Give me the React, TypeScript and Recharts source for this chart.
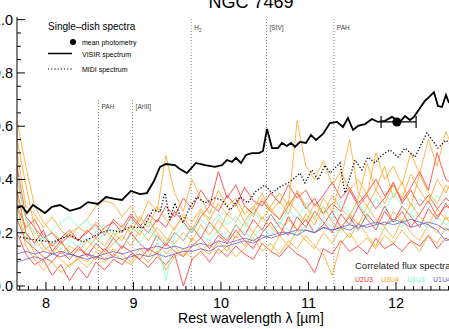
import React from 'react';
import { ComposedChart, Line, Scatter, ErrorBar, XAxis, YAxis, ReferenceLine } from 'recharts';

const FONT = '"Liberation Sans", Arial, Helvetica, sans-serif';

// VISIR spectrum (single-dish)
const visirWl = [7.669,7.726,7.783,7.851,7.92,7.989,8.069,8.16,8.274,8.389,8.48,8.594,8.686,8.789,8.869,8.971,9.074,9.154,9.234,9.303,9.371,9.474,9.531,9.611,9.714,9.817,9.931,10.011,10.069,10.126,10.171,10.229,10.286,10.354,10.434,10.48,10.526,10.583,10.651,10.697,10.754,10.8,10.846,10.903,10.971,11.029,11.086,11.166,11.246,11.326,11.394,11.451,11.509,11.566,11.646,11.726,11.794,11.874,11.954,12.046,12.103,12.16,12.206,12.274,12.331,12.389,12.434,12.48,12.526,12.571,12.606];
const visirFlux = [0.293,0.3,0.274,0.304,0.289,0.274,0.297,0.304,0.282,0.293,0.315,0.308,0.334,0.327,0.323,0.357,0.345,0.349,0.394,0.447,0.458,0.454,0.439,0.424,0.462,0.454,0.447,0.454,0.473,0.466,0.481,0.462,0.492,0.499,0.499,0.507,0.59,0.518,0.518,0.537,0.526,0.537,0.522,0.541,0.537,0.567,0.548,0.571,0.612,0.616,0.597,0.631,0.586,0.601,0.608,0.627,0.616,0.62,0.635,0.616,0.638,0.623,0.635,0.668,0.695,0.713,0.728,0.676,0.672,0.717,0.687];

// MIDI spectrum
const midiWl = [7.703,7.874,8.08,8.274,8.423,8.617,8.731,8.846,8.96,9.109,9.223,9.303,9.36,9.417,9.474,9.566,9.646,9.726,9.817,9.931,10.011,10.103,10.217,10.309,10.389,10.503,10.583,10.674,10.789,10.903,10.96,11.04,11.109,11.189,11.246,11.36,11.417,11.474,11.531,11.611,11.68,11.76,11.84,11.931,12.023,12.103,12.217,12.354,12.48,12.571,12.606];
const midiFlux = [0.184,0.173,0.165,0.192,0.165,0.199,0.21,0.203,0.222,0.218,0.285,0.278,0.349,0.248,0.312,0.237,0.297,0.334,0.312,0.33,0.323,0.285,0.334,0.312,0.353,0.379,0.349,0.372,0.391,0.424,0.387,0.436,0.398,0.454,0.424,0.462,0.349,0.409,0.473,0.436,0.484,0.462,0.492,0.511,0.484,0.518,0.484,0.575,0.518,0.548,0.537];

// Mean photometry
const photWl = 12.01;
const photFlux = 0.616;
const photErr = [0.18, 0.22];

// Correlated flux spectra wavelength grid
const corrWl = [7.67,7.77,7.87,7.97,8.07,8.17,8.27,8.37,8.47,8.57,8.67,8.77,8.87,8.97,9.07,9.17,9.27,9.37,9.47,9.57,9.67,9.77,9.87,9.97,10.07,10.17,10.27,10.37,10.47,10.57,10.67,10.77,10.87,10.97,11.07,11.17,11.27,11.37,11.47,11.57,11.67,11.77,11.87,11.97,12.07,12.17,12.27,12.37,12.47,12.57,12.67];

const u2u3 = [
  [0.45,0.26,0.22,0.18,0.2,0.16,0.19,0.17,0.21,0.18,0.22,0.24,0.2,0.26,0.22,0.27,0.24,0.3,0.26,0.33,0.29,0.36,0.31,0.28,0.34,0.3,0.37,0.32,0.3,0.35,0.31,0.38,0.33,0.36,0.3,0.34,0.39,0.33,0.37,0.31,0.35,0.4,0.34,0.38,0.32,0.37,0.43,0.36,0.5,0.4,0.38],
  [0.2,0.12,0.08,0.1,0.04,0.08,0.02,0.07,0.03,0.09,0.06,0.1,0.08,0.12,0.1,0.07,0.11,0.08,0.12,0.0,0.1,0.13,0.09,0.14,0.11,0.15,0.12,0.1,0.16,0.13,0.11,0.15,0.12,0.1,0.05,0.14,0.12,0.17,0.13,0.15,0.12,0.18,0.14,0.16,0.13,0.17,0.15,0.19,0.14,0.18,0.16],
  [0.3,0.22,0.25,0.19,0.15,0.18,0.21,0.17,0.2,0.23,0.19,0.25,0.22,0.27,0.23,0.2,0.25,0.22,0.28,0.24,0.2,0.26,0.3,0.43,0.33,0.38,0.3,0.27,0.32,0.28,0.25,0.3,0.35,0.29,0.33,0.27,0.31,0.28,0.36,0.3,0.34,0.29,0.33,0.39,0.31,0.36,0.3,0.34,0.29,0.33,0.3],
  [0.36,0.2,0.16,0.21,0.13,0.17,0.12,0.15,0.11,0.16,0.13,0.18,0.14,0.2,0.16,0.13,0.19,0.15,0.2,0.17,0.22,0.18,0.24,0.2,0.17,0.23,0.19,0.25,0.21,0.27,0.22,0.19,0.26,0.22,0.28,0.24,0.2,0.27,0.23,0.3,0.25,0.21,0.28,0.24,0.3,0.26,0.22,0.29,0.25,0.31,0.27],
  [0.25,0.17,0.14,0.11,0.09,0.13,0.1,0.14,0.12,0.1,0.14,0.11,0.15,0.13,0.1,0.14,0.12,0.16,0.13,0.11,0.15,0.18,0.14,0.19,0.16,0.21,0.17,0.14,0.2,0.24,0.19,0.26,0.21,0.25,0.2,0.23,0.28,0.22,0.26,0.21,0.27,0.23,0.3,0.24,0.28,0.22,0.27,0.32,0.26,0.3,0.28],
];
const u3u4 = [
  [0.62,0.45,0.3,0.24,0.2,0.17,0.2,0.22,0.25,0.3,0.32,0.31,0.26,0.3,0.24,0.32,0.28,0.49,0.35,0.28,0.4,0.33,0.27,0.36,0.3,0.33,0.27,0.3,0.25,0.3,0.35,0.3,0.62,0.45,0.4,0.47,0.38,0.43,0.36,0.4,0.34,0.5,0.4,0.45,0.38,0.5,0.42,0.55,0.45,0.58,0.5],
  [0.55,0.38,0.22,0.15,0.12,0.16,0.13,0.1,0.14,0.18,0.15,0.2,0.17,0.23,0.19,0.25,0.2,0.16,0.22,0.26,0.21,0.28,0.24,0.2,0.27,0.31,0.24,0.29,0.35,0.28,0.32,0.27,0.36,0.3,0.25,0.33,0.28,0.4,0.55,0.35,0.3,0.36,0.45,0.33,0.39,0.3,0.42,0.35,0.31,0.38,0.34],
  [0.3,0.15,0.1,0.06,0.09,0.05,0.08,0.1,0.07,0.11,0.09,0.12,0.1,0.08,0.12,0.09,0.13,0.06,0.11,0.14,0.1,0.13,0.16,0.12,0.15,0.11,0.14,0.18,0.13,0.16,0.12,0.17,0.14,0.19,0.15,0.12,0.04,0.16,0.2,0.15,0.18,0.14,0.19,0.16,0.21,0.17,0.13,0.19,0.16,0.22,0.18],
  [0.4,0.25,0.18,0.13,0.16,0.12,0.15,0.13,0.17,0.14,0.12,0.16,0.19,0.15,0.21,0.17,0.22,0.18,0.16,0.2,0.17,0.23,0.19,0.25,0.21,0.18,0.24,0.2,0.26,0.22,0.19,0.25,0.21,0.27,0.23,0.3,0.24,0.21,0.27,0.23,0.3,0.25,0.22,0.28,0.24,0.31,0.26,0.23,0.29,0.25,0.27],
  [0.35,0.2,0.12,0.09,0.13,0.1,0.07,0.11,0.09,0.13,0.1,0.14,0.12,0.09,0.14,0.11,0.16,0.12,0.15,0.11,0.18,0.14,0.12,0.17,0.13,0.19,0.15,0.2,0.16,0.13,0.19,0.15,0.21,0.17,0.14,0.2,0.16,0.22,0.18,0.24,0.19,0.15,0.22,0.18,0.25,0.2,0.17,0.23,0.2,0.26,0.21],
  [0.5,0.3,0.27,0.22,0.26,0.21,0.18,0.22,0.2,0.24,0.21,0.18,0.23,0.2,0.26,0.22,0.3,0.25,0.21,0.27,0.24,0.29,0.25,0.31,0.27,0.24,0.3,0.26,0.33,0.29,0.25,0.32,0.28,0.24,0.31,0.27,0.34,0.29,0.26,0.33,0.46,0.36,0.31,0.38,0.33,0.42,0.36,0.31,0.4,0.35,0.42],
];
const u1u3 = [
  [0.42,0.25,0.2,0.17,0.21,0.24,0.26,0.22,0.25,0.2,0.23,0.19,0.22,0.25,0.2,0.24,0.18,0.02,0.19,0.23,0.2,0.25,0.22,0.27,0.23,0.26,0.22,0.28,0.24,0.27,0.23,0.29,0.25,0.31,0.26,0.3,0.25,0.32,0.27,0.31,0.26,0.33,0.28,0.35,0.3,0.27,0.33,0.29,0.34,0.3,0.32],
  [0.3,0.18,0.15,0.19,0.16,0.14,0.17,0.15,0.18,0.16,0.2,0.17,0.15,0.19,0.16,0.21,0.18,0.16,0.2,0.17,0.22,0.19,0.17,0.21,0.18,0.23,0.2,0.18,0.22,0.19,0.24,0.21,0.19,0.23,0.2,0.25,0.22,0.2,0.24,0.21,0.26,0.23,0.21,0.25,0.22,0.27,0.24,0.22,0.26,0.23,0.25],
];
const u1u4 = [
  [0.09,0.1,0.11,0.1,0.12,0.11,0.12,0.11,0.1,0.11,0.1,0.11,0.1,0.11,0.12,0.11,0.12,0.11,0.12,0.13,0.13,0.14,0.13,0.15,0.15,0.16,0.17,0.16,0.18,0.19,0.2,0.2,0.21,0.21,0.2,0.22,0.21,0.22,0.23,0.22,0.23,0.24,0.23,0.25,0.24,0.25,0.24,0.23,0.21,0.17,0.18],
  [0.12,0.13,0.12,0.13,0.12,0.13,0.12,0.11,0.12,0.11,0.12,0.13,0.12,0.13,0.14,0.14,0.15,0.14,0.15,0.14,0.15,0.16,0.15,0.17,0.16,0.17,0.18,0.17,0.19,0.18,0.19,0.2,0.19,0.21,0.2,0.22,0.21,0.22,0.21,0.23,0.22,0.23,0.24,0.23,0.24,0.22,0.23,0.24,0.23,0.21,0.22],
];

const baselines = [
  { key: 'U2U3', color: '#ff2a2a', sets: u2u3 },
  { key: 'U3U4', color: '#ffa31a', sets: u3u4 },
  { key: 'U1U3', color: '#6fffcf', sets: u1u3 },
  { key: 'U1U4', color: '#6a5cc4', sets: u1u4 },
];

// Spectral features
const features = [
  { wl: 8.6, label: 'PAH', top: 0.698, dy: 9 },
  { wl: 8.99, label: '[ArIII]', top: 0.698, dy: 9 },
  { wl: 9.66, label: 'H2', top: null, dy: 13 },
  { wl: 10.52, label: '[SIV]', top: null, dy: 13 },
  { wl: 11.29, label: 'PAH', top: null, dy: 13 },
];

const xMajor = [8, 9, 10, 11, 12];
const yMajor = [0, 0.2, 0.4, 0.6, 0.8, 1.0];
const xTicks: number[] = [];
for (let i = 77; i <= 126; i++) xTicks.push(i / 10);
const yTicks: number[] = [];
for (let i = 0; i <= 20; i++) yTicks.push(i / 20);

const X_DOMAIN = [7.669, 12.606];
const Y_DOMAIN = [-0.015, 1.01];

const corrRows = corrWl.map((x, i) => {
  const row: any = { x };
  baselines.forEach((b) => b.sets.forEach((s, j) => { row[`${b.key}_${j}`] = s[i]; }));
  return row;
});
const visirData = visirWl.map((x, i) => ({ x, y: visirFlux[i] }));
const midiData = midiWl.map((x, i) => ({ x, y: midiFlux[i] }));
const photData = [{ x: photWl, y: photFlux, err: photErr }];

const isMajor = (v: number, list: number[]) => list.some((m) => Math.abs(m - v) < 1e-6);

const BottomTick = (p: any) => {
  const v = p.payload.value;
  const major = isMajor(v, xMajor);
  return (
    <g>
      <line x1={p.x} x2={p.x} y1={p.y} y2={p.y - (major ? 8 : 4)} stroke="#000" strokeWidth={1} />
      {major && (
        <text x={p.x} y={p.y + 18} textAnchor="middle" fontSize={14.5} fontFamily={FONT} fill="#000">{v}</text>
      )}
    </g>
  );
};
const TopTick = (p: any) => {
  const v = p.payload.value;
  const major = isMajor(v, xMajor);
  return <line x1={p.x} x2={p.x} y1={p.y} y2={p.y + (major ? 8 : 4)} stroke="#000" strokeWidth={1} />;
};
const Y_MARGIN = 4;
const LeftTick = (p: any) => {
  const v = p.payload.value;
  const major = isMajor(v, yMajor);
  const ax = p.x + Y_MARGIN;
  return (
    <g>
      <line x1={ax} x2={ax + (major ? 8 : 4)} y1={p.y} y2={p.y} stroke="#000" strokeWidth={1} />
      {major && (
        <text x={p.x} y={p.y + 5} textAnchor="end" fontSize={14.5} fontFamily={FONT} fill="#000">{v.toFixed(1)}</text>
      )}
    </g>
  );
};

const FeatureLabel = ({ viewBox, text, dy }: any) => {
  if (!viewBox) return null;
  const x = viewBox.x + 3;
  const y = viewBox.y + dy;
  if (text === 'H2') {
    return (
      <text x={x} y={y} fontSize={6.5} fontFamily={FONT} fill="#444">
        H<tspan fontSize={4.5} dy={1.5}>2</tspan>
      </text>
    );
  }
  return <text x={x} y={y} fontSize={6.5} fontFamily={FONT} fill="#444">{text}</text>;
};

export default function App() {
  return (
    <div style={{ position: 'absolute', left: 0, top: 0, width: 449, height: 329, overflow: 'hidden', background: '#fff' }}>
      <ComposedChart width={449} height={329} data={corrRows} margin={{ top: 17, right: 0, bottom: 0, left: 0 }}>
        <XAxis xAxisId={0} type="number" dataKey="x" domain={X_DOMAIN} allowDataOverflow ticks={xTicks} interval={0}
          height={39} tickSize={0} tickMargin={0} tickLine={false} axisLine={{ stroke: '#000' }} tick={<BottomTick />} />
        <XAxis xAxisId="top" orientation="top" type="number" dataKey="x" domain={X_DOMAIN} allowDataOverflow ticks={xTicks} interval={0}
          height={0} tickSize={0} tickMargin={0} tickLine={false} axisLine={{ stroke: '#000' }} tick={<TopTick />} />
        <YAxis type="number" domain={Y_DOMAIN} allowDataOverflow ticks={yTicks} interval={0} width={17}
          tickSize={0} tickMargin={Y_MARGIN} tickLine={false} axisLine={{ stroke: '#000' }} tick={<LeftTick />} />
        {features.map((f, i) =>
          f.top === null ? (
            <ReferenceLine key={i} x={f.wl} stroke="#8a8a8a" strokeDasharray="1 2" strokeWidth={1}
              label={<FeatureLabel text={f.label} dy={f.dy} />} />
          ) : (
            <ReferenceLine key={i} segment={[{ x: f.wl, y: Y_DOMAIN[0] }, { x: f.wl, y: f.top }]} stroke="#8a8a8a"
              strokeDasharray="1 2" strokeWidth={1} label={<FeatureLabel text={f.label} dy={f.dy} />} />
          )
        )}
        {baselines.map((b) =>
          b.sets.map((_, j) => (
            <Line key={`${b.key}_${j}`} dataKey={`${b.key}_${j}`} stroke={b.color} strokeOpacity={0.78} strokeWidth={1}
              dot={false} activeDot={false} isAnimationActive={false} />
          ))
        )}
        <Line data={midiData} dataKey="y" stroke="#000" strokeWidth={1.3} strokeDasharray="1.2 2" dot={false}
          activeDot={false} isAnimationActive={false} />
        <Line data={visirData} dataKey="y" stroke="#000" strokeWidth={1.8} dot={false} activeDot={false} isAnimationActive={false} />
        <Scatter data={photData} dataKey="y" fill="#000" isAnimationActive={false}>
          <ErrorBar dataKey="err" direction="x" width={6} stroke="#000" strokeWidth={1.2} />
        </Scatter>
      </ComposedChart>
      <svg width={449} height={329} style={{ position: 'absolute', left: 0, top: 0, pointerEvents: 'none' }}>
        <text x={251} y={8} textAnchor="middle" fontSize={18} fontFamily={FONT} fill="#000">NGC 7469</text>
        <text x={251} y={323} textAnchor="middle" fontSize={14} fontFamily={FONT} fill="#000">Rest wavelength λ [µm]</text>
        <text x={48} y={30} fontSize={10} fontFamily={FONT} fill="#000">Single–dish spectra</text>
        <circle cx={73} cy={42} r={3} fill="#000" />
        <text x={82} y={44.5} fontSize={7} fontFamily={FONT} fill="#000">mean photometry</text>
        <line x1={48} x2={72} y1={53.5} y2={53.5} stroke="#000" strokeWidth={1.5} />
        <text x={82} y={56.5} fontSize={7} fontFamily={FONT} fill="#000">VISIR spectrum</text>
        <line x1={48} x2={72} y1={69} y2={69} stroke="#000" strokeWidth={1.2} strokeDasharray="1.2 2" />
        <text x={82} y={72} fontSize={7} fontFamily={FONT} fill="#000">MIDI spectrum</text>
        <text x={355} y={268.5} fontSize={9.5} fontFamily={FONT} fill="#222">Correlated flux spectra</text>
        {baselines.map((b, i) => (
          <text key={b.key} x={355 + i * 26} y={281.5} fontSize={7} fontFamily={FONT} fill={b.color}>{b.key}</text>
        ))}
      </svg>
    </div>
  );
}
